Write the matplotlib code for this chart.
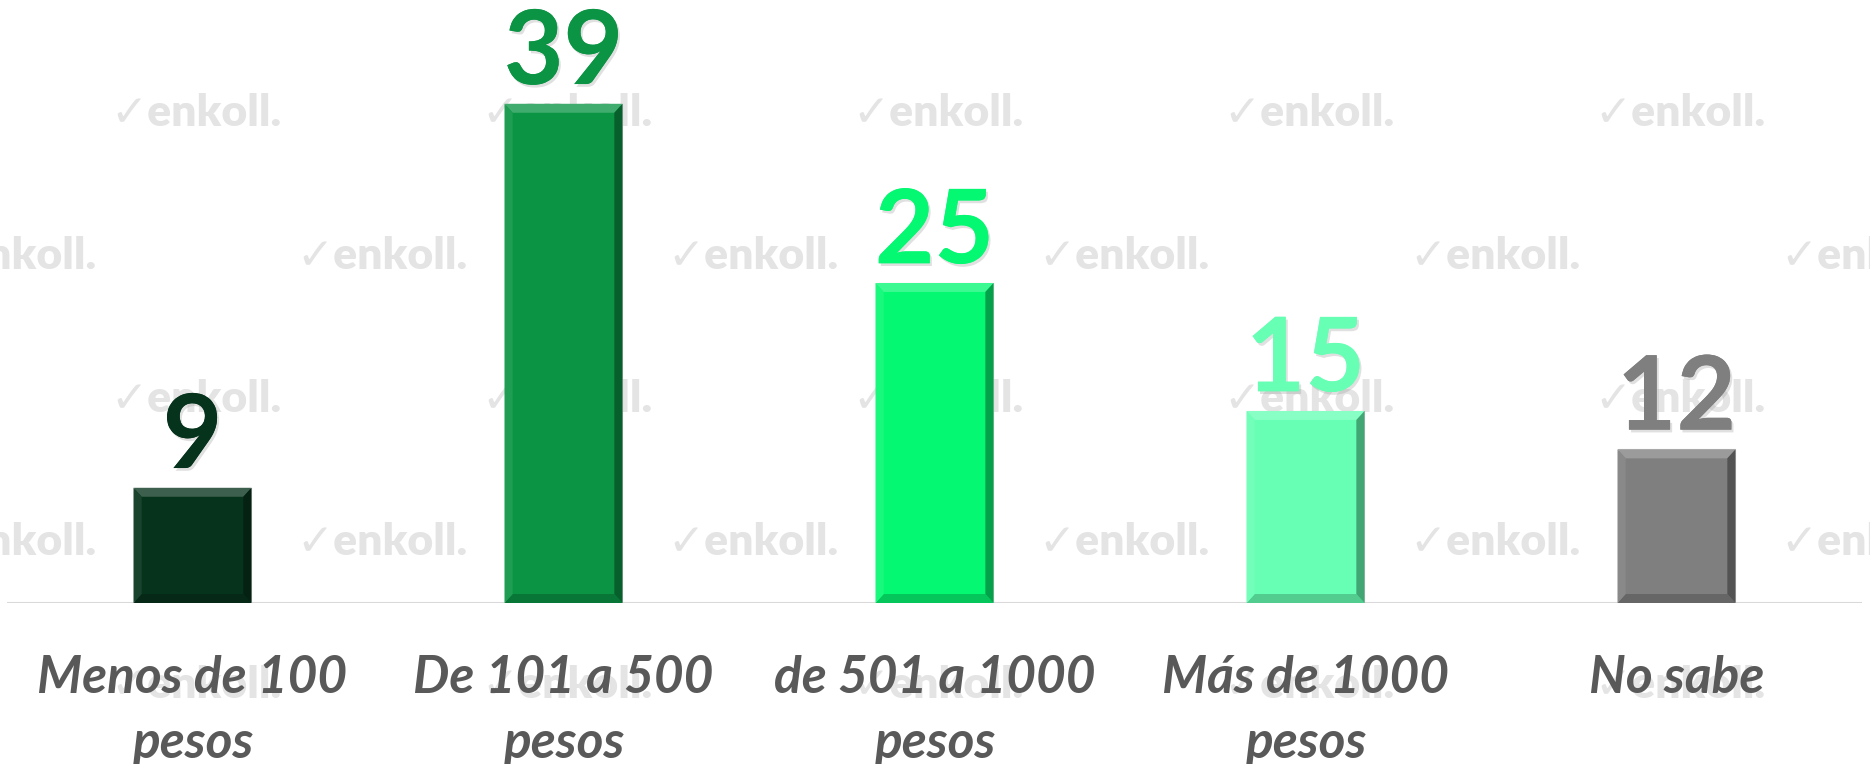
import numpy as np
import matplotlib
matplotlib.use("Agg")
import matplotlib.pyplot as plt
import matplotlib.patheffects as pe
from matplotlib.patches import Polygon
from matplotlib.colors import to_rgb

categorias = ["Menos de 100\npesos", "De 101 a 500\npesos", "de 501 a 1000\npesos",
              "Más de 1000\npesos", "No sabe"]
valores = [9, 39, 25, 15, 12]
colores = ["#06331c", "#0a9444", "#05f872", "#66ffb3", "#7f7f7f"]

plt.rcParams['font.family'] = ['Lato', 'DejaVu Sans']

W, H = 1870, 764
fig = plt.figure(figsize=(W / 100, H / 100), dpi=100)
ax = fig.add_axes([7 / W, 1 - 603 / H, (1862 - 7) / W, 576 / H])
ax.set_zorder(2)
ax.patch.set_alpha(0)

# marca de agua (detrás de todo)
for fila, yy in enumerate([113, 256, 399, 542, 685]):
    desp = 0 if fila % 2 == 0 else -185
    for k in range(-1, 7):
        xx = 196 + desp + k * 371
        fig.text(xx / W, 1 - yy / H, "✓enkoll.", fontsize=32, fontweight="heavy",
                 color="#e4e4e4", ha="center", va="center", zorder=0)

x = np.arange(len(valores))
ancho = 0.318
barras = ax.bar(x, valores, width=ancho, color=colores, edgecolor="#bfbfbf",
                linewidth=0.8, zorder=2)


def mezcla(c, otro, t):
    c = np.array(to_rgb(c)); o = np.array(to_rgb(otro))
    return tuple(c * (1 - t) + o * t)


# efecto bisel
bx = 0.022
by = 0.7
for b, c in zip(barras, colores):
    x0, x1 = b.get_x(), b.get_x() + b.get_width()
    y0, y1 = 0, b.get_height()
    caras = [
        ([(x0, y1), (x1, y1), (x1 - bx, y1 - by), (x0 + bx, y1 - by)], mezcla(c, "white", 0.22)),
        ([(x0, y0), (x1, y0), (x1 - bx, y0 + by), (x0 + bx, y0 + by)], mezcla(c, "black", 0.2)),
        ([(x0, y0), (x0, y1), (x0 + bx, y1 - by), (x0 + bx, y0 + by)], mezcla(c, "white", 0.08)),
        ([(x1, y0), (x1, y1), (x1 - bx, y1 - by), (x1 - bx, y0 + by)], mezcla(c, "black", 0.35)),
    ]
    for pts, col in caras:
        ax.add_patch(Polygon(pts, closed=True, facecolor=col, edgecolor="none", zorder=3))

for b, v, c in zip(barras, valores, colores):
    ax.annotate(str(v), (b.get_x() + b.get_width() / 2, b.get_height()),
                xytext=(0, 2), textcoords="offset points", ha="center", va="bottom",
                fontsize=74, fontweight="bold", color=c, zorder=4,
                path_effects=[pe.withSimplePatchShadow(offset=(1.5, -2), shadow_rgbFace="#999999",
                                                       alpha=0.3), pe.Normal()])

for i, cat in enumerate(categorias):
    ax.text(i, -4.1, cat, ha="center", va="top", fontsize=37, fontweight="bold",
            fontstyle="italic", color="#595959", linespacing=1.45)

ax.axhline(0, color="#d9d9d9", lw=1.5, zorder=1)
ax.set_xlim(-0.5, len(valores) - 0.5)
ax.set_ylim(0, 45)
ax.axis("off")

plt.savefig("out.png", dpi=100)
